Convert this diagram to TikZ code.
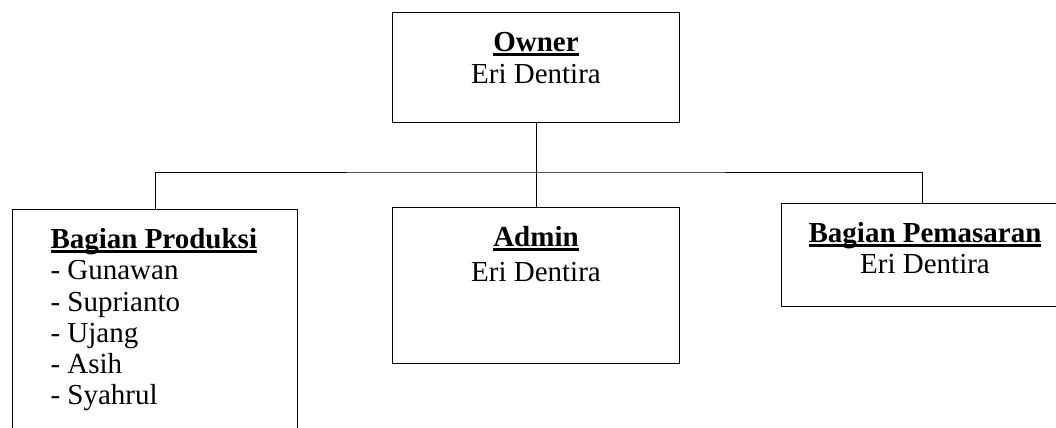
\documentclass[tikz,border=0pt]{standalone}
\usepackage{fontspec}
\setmainfont{Liberation Serif}
\usetikzlibrary{positioning}
\tikzset{kotak/.style={draw,rectangle,line width=0.5pt,anchor=north west,inner sep=0pt},
         isi/.style={inner sep=0pt,font=\fontsize{14.5}{15.6}\selectfont}
        }
\newcommand{\judul}[1]{\setbox0\hbox{\textbf{#1}}\rlap{\rule[-2pt]{\wd0}{1.2pt}}\box0}

\begin{document}
\begin{tikzpicture}[x=0.5pt,y=-0.5pt,line width=0.5pt]
      \useasboundingbox (0,0) rectangle (1056,428);
      \clip (0,0) rectangle (1056,428);

      % kotak
      \node[kotak,minimum width=143.5pt,minimum height=55pt] (owner) at (392,12) {};
      \node[kotak,minimum width=143.5pt,minimum height=78pt] (admin) at (392,207) {};
      \node[kotak,minimum width=142.5pt,minimum height=130pt] (produksi) at (12,209) {};
      \node[kotak,minimum width=141pt,minimum height=51.5pt] (pemasaran) at (781,203) {};

      % isi kotak
      \node[isi,anchor=north,align=center] (tOwner) at (536,32) {\judul{Owner}\\[0.5pt]Eri Dentira};
      \node[isi,anchor=north,align=center] (tAdmin) at (536,226) {\judul{Admin}\\[2pt]Eri Dentira};
      \node[isi,anchor=north west,align=left] (tProduksi) at (50,228)
            {\judul{Bagian Produksi}\\- Gunawan\\- Suprianto\\- Ujang\\- Asih\\- Syahrul};
      \node[isi,anchor=north,align=center] (tPemasaran) at (925,222) {\judul{Bagian Pemasaran}\\Eri Dentira};

      % garis
      \coordinate (cabang) at (533,172);
      \draw (owner.south) -- (admin.north);
      \draw (produksi.north) |- (cabang) -| (pemasaran.north);
\end{tikzpicture}
\end{document}
